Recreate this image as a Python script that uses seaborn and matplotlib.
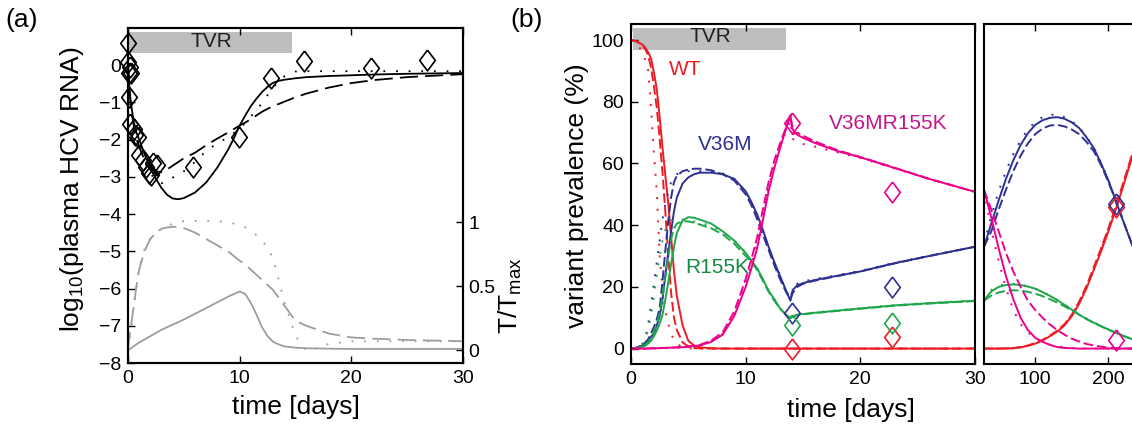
import matplotlib
matplotlib.use('Agg')
import matplotlib.pyplot as plt
import seaborn as sns
import pandas as pd
from matplotlib.patches import Rectangle

# ---------------- (a) plasma HCV RNA and T/Tmax ----------------
t_a = [0, 0.1, 0.25, 0.5, 0.75, 1, 1.5, 2, 2.5, 3, 3.5, 4, 4.5, 5, 6, 7, 8, 9, 9.5, 10, 10.5,
       11, 11.5, 12, 12.5, 13, 13.5, 14, 15, 16, 18, 20, 22, 25, 30]
rna_fit1 = [0, -0.5, -1.0, -1.5, -1.8, -2.0, -2.4, -2.75, -3.05, -3.3, -3.48, -3.58, -3.6, -3.57,
            -3.42, -3.15, -2.75, -2.25, -1.95, -1.62, -1.35, -1.1, -0.9, -0.72, -0.58, -0.47,
            -0.42, -0.39, -0.35, -0.32, -0.29, -0.27, -0.25, -0.23, -0.21]
rna_fit2 = [0, -0.6, -1.1, -1.6, -1.95, -2.2, -2.55, -2.75, -2.85, -2.87, -2.8, -2.7, -2.6, -2.5,
            -2.35, -2.15, -1.97, -1.8, -1.71, -1.62, -1.54, -1.45, -1.35, -1.25, -1.17, -1.1,
            -1.04, -0.98, -0.86, -0.76, -0.6, -0.48, -0.4, -0.32, -0.24]
rna_fit3 = [0, -0.6, -1.15, -1.65, -1.95, -2.2, -2.6, -2.9, -3.1, -3.17, -3.12, -3.02, -2.95, -2.85,
            -2.6, -2.3, -2.1, -1.93, -1.82, -1.7, -1.55, -1.38, -1.2, -1.02, -0.8, -0.6,
            -0.43, -0.3, -0.17, -0.16, -0.16, -0.16, -0.16, -0.16, -0.16]
ttmax_fit1 = [0, 0.005, 0.015, 0.03, 0.045, 0.06, 0.085, 0.11, 0.135, 0.16, 0.18, 0.2, 0.22, 0.24,
              0.285, 0.33, 0.375, 0.42, 0.44, 0.46, 0.44, 0.37, 0.28, 0.18, 0.11, 0.065,
              0.045, 0.03, 0.02, 0.015, 0.012, 0.01, 0.01, 0.01, 0.01]
ttmax_fit2 = [0, 0.08, 0.18, 0.33, 0.5, 0.63, 0.78, 0.87, 0.92, 0.95, 0.96, 0.965, 0.965, 0.955,
              0.92, 0.87, 0.82, 0.77, 0.735, 0.7, 0.67, 0.63, 0.59, 0.55, 0.51, 0.47,
              0.41, 0.35, 0.23, 0.19, 0.13, 0.1, 0.09, 0.08, 0.07]
ttmax_fit3 = [0, 0.06, 0.15, 0.35, 0.49, 0.65, 0.8, 0.87, 0.92, 0.95, 0.97, 0.99, 1.0, 1.01,
              1.01, 1.01, 1.01, 1.0, 0.99, 0.98, 0.96, 0.93, 0.9, 0.86, 0.8, 0.72,
              0.55, 0.38, 0.11, -0.01, 0.05, 0.07, 0.07, 0.07, 0.07]
obs_a_t = [0, 0, 0.2, 0.05, 0.25, 0.1, 0.2, 0.5, 0.6, 0.9, 1.0, 1.3, 1.6, 1.9, 2.2, 2.1, 2.6,
           5.85, 9.9, 12.8, 15.8, 21.8, 26.8]
obs_a_rna = [0.59, 0.08, -0.05, -0.2, -0.22, -0.85, -1.57, -1.7, -1.88, -1.92, -2.4, -2.55, -2.73,
             -2.9, -2.63, -2.95, -2.68, -2.73, -1.92, -0.33, 0.11, -0.08, 0.13]

# ---------------- (b) variant prevalence, days 0-30 ----------------
t_b = [0, 0.5, 1, 1.25, 1.5, 1.75, 2, 2.25, 2.5, 2.75, 3, 3.25, 3.5, 3.75, 4, 4.5, 5, 5.5, 6,
       7, 8, 9, 10, 10.5, 11, 11.5, 12, 12.5, 13, 13.5, 13.9, 14.1, 14.5, 15, 16, 18, 20, 23, 26, 30]
wt_fit1 = [100, 99.6, 98.5, 97.5, 96, 94, 89.5, 84, 75, 65, 56, 47, 36, 25, 17, 7.5, 2.5, 1, 0.4,
           0.1, 0, 0, 0, 0, 0, 0, 0, 0, 0, 0, 0, 0, 0, 0, 0, 0, 0, 0, 0, 0]
wt_fit2 = [100, 99.5, 98.2, 97, 95, 91, 85, 78, 68, 57, 44, 30, 18, 10, 6, 2, 0.7, 0.2, 0.05,
           0, 0, 0, 0, 0, 0, 0, 0, 0, 0, 0, 0, 0, 0, 0, 0, 0, 0, 0, 0, 0]
wt_fit3 = [100, 99, 96, 93.5, 90, 78, 63, 51, 30, 19, 12, 8, 5, 2.5, 1.5, 0.5, 0.1, 0, 0,
           0, 0, 0, 0, 0, 0, 0, 0, 0, 0, 0, 0, 0, 0, 0, 0, 0, 0, 0, 0, 0]
v36m_fit1 = [0, 0.3, 1, 1.7, 2.5, 3.8, 5, 7.5, 10.5, 16, 24, 31, 38, 44.5, 49, 53.5, 55.5, 56.5, 57,
             57, 56.5, 55, 51, 47.5, 43.5, 38.5, 33, 28, 23.5, 19, 15.5, 19, 20.5, 21.2, 22.2,
             23.6, 25, 27.7, 30, 33]
v36m_fit2 = [0, 0.3, 1.2, 2, 3, 5, 7, 9.5, 13, 22, 32, 41.5, 49, 54, 56, 57.5, 58, 58.3, 58.3,
             57.8, 56.5, 54.5, 50, 46.5, 42, 37, 32, 27, 22.5, 18.5, 16, 18, 20, 21, 22,
             23.5, 25, 27.6, 30, 33]
v36m_fit3 = [0, 0.5, 1.5, 3.5, 8, 14, 21, 28, 35, 42, 47, 51, 54, 55.5, 56.5, 57.3, 57.5, 57.5, 57.5,
             57.3, 56.8, 55, 51, 47.5, 43, 38, 33, 28, 23.5, 19, 16, 19.5, 21, 21.8, 22.5,
             23.8, 25.2, 27.8, 30.1, 33]
r155k_fit1 = [0, 0.2, 0.6, 1, 1.6, 2.6, 4, 5.8, 8, 11, 16, 21.5, 27.5, 33, 37.5, 41.5, 42.6, 42.4,
              41.8, 40.5, 38, 35, 31, 28.5, 26, 22.5, 18.7, 16, 13, 11, 9.9, 10.4, 11, 11.2,
              11.6, 12.3, 13, 14, 14.7, 15.5]
r155k_fit2 = [0, 0.2, 0.8, 1.3, 2.2, 3.5, 5.5, 8, 11.5, 17, 23, 30, 35.5, 39, 40.5, 41.3, 41.2, 40.8,
              40.2, 39, 37, 34, 30, 28, 25.5, 22, 18.5, 15.5, 13, 11, 10, 10.2, 10.9, 11.1,
              11.5, 12.2, 12.9, 13.9, 14.6, 15.4]
r155k_fit3 = [0, 0.3, 1.5, 3, 6, 11, 17, 24, 30, 35, 38.5, 40.5, 41.5, 42, 42, 41.8, 41.5, 41.2,
              40.8, 39.8, 37.8, 35, 31, 28.6, 26, 22.5, 18.8, 16, 13, 11, 10, 10.6, 11.1, 11.3,
              11.7, 12.4, 13.1, 14.1, 14.8, 15.6]
dbl_fit1 = [0, 0, 0, 0, 0.05, 0.05, 0.1, 0.1, 0.15, 0.2, 0.2, 0.25, 0.3, 0.3, 0.35, 0.45, 0.6, 0.8,
            1.0, 2.2, 4.5, 10.5, 20, 26, 32.5, 41.6, 51, 58.5, 65, 71, 75.7, 71, 69.3, 68.3,
            66.7, 64, 62, 58.5, 55, 50.8]
dbl_fit2 = [0, 0, 0, 0, 0.05, 0.05, 0.1, 0.1, 0.15, 0.2, 0.2, 0.25, 0.3, 0.35, 0.4, 0.5, 0.7, 0.9,
            1.2, 2.6, 5.3, 12, 22.5, 29, 36, 45, 54, 61, 66.5, 71.5, 75.5, 69.5, 70, 69,
            67.2, 64.3, 62.1, 58.6, 55, 50.8]
dbl_fit3 = [0, 0, 0, 0, 0.05, 0.05, 0.1, 0.1, 0.15, 0.2, 0.2, 0.25, 0.3, 0.3, 0.35, 0.45, 0.6, 0.8,
            1.0, 2.3, 4.8, 11, 21, 27, 34, 43, 52.5, 59.5, 65.5, 70.5, 74, 68, 67, 66.3,
            65.5, 63.6, 61.8, 58.4, 55, 50.8]

# ---------------- (b) long term, days 30-235 ----------------
t_c = [30, 40, 50, 60, 70, 80, 90, 100, 110, 120, 130, 140, 150, 160, 170, 180, 190, 200, 210, 220, 235]
wt_c1 = [0, 0, 0, 0.05, 0.1, 0.4, 0.9, 1.6, 2.6, 4, 5.5, 7.5, 10.5, 14.5, 19.5, 25.5, 31.5, 38, 45, 52.5, 64]
wt_c2 = [0, 0, 0, 0.05, 0.15, 0.5, 1, 1.8, 2.8, 4.2, 5.8, 7.9, 11, 15.2, 20.3, 26.3, 32.5, 39, 46, 53.5, 65]
wt_c3 = [0, 0, 0, 0.05, 0.1, 0.4, 0.9, 1.6, 2.6, 4, 5.6, 7.7, 10.8, 14.9, 20, 26, 32, 38.6, 45.6, 53, 64.5]
v36m_c1 = [33, 40.5, 48, 55, 61, 66, 69.8, 72.5, 74, 74.8, 75, 74.5, 73.3, 71.5, 68.5, 65, 60, 54.5, 48, 41.5, 32]
v36m_c2 = [33, 38, 45, 51.5, 57.5, 62.5, 66.5, 69.5, 71.3, 72.3, 72.5, 72, 71, 69.5, 67, 64, 59.5, 54, 48, 41.5, 32]
v36m_c3 = [34, 43, 51, 57.5, 63, 67.5, 71, 73.5, 75, 75.8, 75.8, 75, 73.7, 71.7, 68.7, 65.2, 60.2, 54.6, 48.1, 41.6, 32.1]
r155k_c1 = [15.7, 18.5, 20, 20.6, 20.8, 20.6, 20.1, 19.4, 18.3, 17.1, 15.7, 14.2, 12.6, 11, 9.6, 8.4, 7.3, 6.2, 5.2, 4.2, 2.8]
r155k_c2 = [15.5, 17.2, 18.2, 18.7, 18.9, 18.8, 18.4, 17.8, 17, 16, 14.9, 13.7, 12.4, 11, 9.6, 8.3, 7.2, 6.1, 5.1, 4.1, 2.8]
r155k_c3 = [15.8, 19, 20.4, 20.9, 21, 20.7, 20.2, 19.5, 18.4, 17.2, 15.8, 14.3, 12.7, 11.1, 9.7, 8.5, 7.3, 6.2, 5.2, 4.2, 2.8]
dbl_c1 = [51.4, 42.5, 32.5, 23.5, 16, 10, 6, 3.5, 2.2, 1.2, 0.5, 0.2, 0.1, 0, 0, 0, 0, 0, 0, 0, 0]
dbl_c2 = [51.4, 45, 38, 31, 25, 20, 15.5, 12.5, 10, 7.8, 6, 4.5, 3.2, 2.3, 1.5, 1, 0.6, 0.3, 0.15, 0.05, 0]
dbl_c3 = [51.4, 38.5, 28.5, 19.5, 12.5, 8, 5.2, 3.5, 2.2, 1.3, 0.8, 0.4, 0.2, 0.1, 0, 0, 0, 0, 0, 0, 0]

# measured prevalence (diamonds)
obs_b_t = [14, 22.8]
obs_b = {'WT': [0, 3.8], 'V36M': [11.4, 20], 'R155K': [7.6, 8.2], 'V36MR155K': [73, 50.8]}
obs_c_t = [211]
obs_c = {'WT': [46], 'V36M': [47], 'V36MR155K': [2.8]}

variants = ['WT', 'V36M', 'R155K', 'V36MR155K']
line_col = {'WT': '#ED1C24', 'V36M': '#2E3192', 'R155K': '#1FA64A', 'V36MR155K': '#EC008C'}
text_col = {'WT': '#ED1C24', 'V36M': '#2E3192', 'R155K': '#138A43', 'V36MR155K': '#C4168C'}


def long_form(t, curves):
    rows = []
    for (variant, fit), vals in curves.items():
        for ti, vi in zip(t, vals):
            rows.append((variant, fit, ti, vi))
    return pd.DataFrame(rows, columns=['variant', 'fit', 't', 'value'])


df_rna = long_form(t_a, {('rna', 'fit 1'): rna_fit1, ('rna', 'fit 2'): rna_fit2, ('rna', 'fit 3'): rna_fit3})
df_tt = long_form(t_a, {('T', 'fit 1'): ttmax_fit1, ('T', 'fit 2'): ttmax_fit2, ('T', 'fit 3'): ttmax_fit3})
df_b = long_form(t_b, {
    ('WT', 'fit 1'): wt_fit1, ('WT', 'fit 2'): wt_fit2, ('WT', 'fit 3'): wt_fit3,
    ('V36M', 'fit 1'): v36m_fit1, ('V36M', 'fit 2'): v36m_fit2, ('V36M', 'fit 3'): v36m_fit3,
    ('R155K', 'fit 1'): r155k_fit1, ('R155K', 'fit 2'): r155k_fit2, ('R155K', 'fit 3'): r155k_fit3,
    ('V36MR155K', 'fit 1'): dbl_fit1, ('V36MR155K', 'fit 2'): dbl_fit2, ('V36MR155K', 'fit 3'): dbl_fit3})
df_c = long_form(t_c, {
    ('WT', 'fit 1'): wt_c1, ('WT', 'fit 2'): wt_c2, ('WT', 'fit 3'): wt_c3,
    ('V36M', 'fit 1'): v36m_c1, ('V36M', 'fit 2'): v36m_c2, ('V36M', 'fit 3'): v36m_c3,
    ('R155K', 'fit 1'): r155k_c1, ('R155K', 'fit 2'): r155k_c2, ('R155K', 'fit 3'): r155k_c3,
    ('V36MR155K', 'fit 1'): dbl_c1, ('V36MR155K', 'fit 2'): dbl_c2, ('V36MR155K', 'fit 3'): dbl_c3})

plt.rcParams['font.family'] = ['Liberation Sans', 'DejaVu Sans']
plt.rcParams['mathtext.default'] = 'regular'
plt.rcParams['axes.linewidth'] = 1.5

W, H = 1132, 429
fig = plt.figure(figsize=(W / 100, H / 100), dpi=100)


def box(l, t, r, b):
    return [l / W, 1 - b / H, (r - l) / W, (b - t) / H]


diamond = [(0, 1), (0.75, 0), (0, -1), (-0.75, 0), (0, 1)]
big_dash = {'fit 1': '', 'fit 2': (10, 4), 'fit 3': (1, 6)}
small_dash = {'fit 1': '', 'fit 2': (5, 2), 'fit 3': (1, 5)}
MS = 15

# ---------------- panel (a) ----------------
ax_a = fig.add_axes(box(128, 28, 463, 363))
ax_a.add_patch(Rectangle((0, 0.32), 14.7, 0.58, color='#BCBEC0', lw=0, zorder=1))
ax_a.text(7.5, 0.63, 'TVR', ha='center', va='center', fontsize=15, color='#231F20')
sns.lineplot(data=df_rna, x='t', y='value', style='fit', dashes=big_dash, color='black',
             lw=1.3, estimator=None, legend=False, ax=ax_a)
sns.lineplot(x=obs_a_t, y=obs_a_rna, marker=diamond, linestyle='', ms=MS, mfc='none',
             mec='black', mew=1.2, color='black', estimator=None, clip_on=False, ax=ax_a, zorder=4)
ax_a.set_xlim(0, 30)
ax_a.set_ylim(-8, 1)
ax_a.set_xticks([0, 10, 20, 30])
ax_a.set_yticks(range(-8, 1))
ax_a.tick_params(direction='in', length=5, width=1, top=True, right=False, labelsize=14, pad=5)
ax_a.set_xlabel('time [days]', fontsize=19, va='center')
ax_a.xaxis.set_label_coords(0.5, -0.131)
ax_a.set_ylabel('log$_{10}$(plasma HCV RNA)', fontsize=19, va='center')
ax_a.yaxis.set_label_coords(-0.167, 0.52)

ax_t = ax_a.twinx()
sns.lineplot(data=df_tt, x='t', y='value', style='fit', dashes=big_dash, color='#9D9D9D',
             lw=1.3, estimator=None, legend=False, ax=ax_t)
ax_t.set_ylim(-0.1, 2.52)
ax_t.set_yticks([0, 0.5, 1])
ax_t.set_yticklabels(['0', '0.5', '1'])
ax_t.tick_params(direction='in', length=5, width=1, labelsize=14, pad=4)
ax_t.set_ylabel('T/T$_{max}$', fontsize=19, va='center', rotation=90)
ax_t.yaxis.set_label_coords(1.14, 0.2)

# ---------------- panel (b), first 30 days ----------------
ax_b = fig.add_axes(box(631, 24, 975, 364))
ax_b.add_patch(Rectangle((0.2, 96.8), 13.3, 7.1, color='#BCBEC0', lw=0, zorder=1))
ax_b.text(6.9, 101, 'TVR', ha='center', va='center', fontsize=15, color='#231F20')
sns.lineplot(data=df_b, x='t', y='value', hue='variant', style='fit', palette=line_col,
             dashes=small_dash, lw=1.4, estimator=None, legend=False, ax=ax_b)
for v, vals in obs_b.items():
    sns.lineplot(x=obs_b_t, y=vals, marker=diamond, linestyle='', ms=MS, mfc='none',
                 mec=line_col[v], mew=1.2, color=line_col[v], estimator=None, ax=ax_b, zorder=4)
ax_b.text(4.7, 90.4, 'WT', color=text_col['WT'], fontsize=15, ha='center', va='center')
ax_b.text(8.2, 66, 'V36M', color=text_col['V36M'], fontsize=15, ha='center', va='center')
ax_b.text(7.5, 26.2, 'R155K', color=text_col['R155K'], fontsize=15, ha='center', va='center')
ax_b.text(22.4, 73, 'V36MR155K', color=text_col['V36MR155K'], fontsize=15, ha='center', va='center')
ax_b.set_xlim(0, 30)
ax_b.set_ylim(-5, 105.2)
ax_b.set_xticks([0, 10, 20, 30])
ax_b.set_yticks(range(0, 101, 20))
ax_b.tick_params(direction='in', length=5, width=1, top=True, right=False, labelsize=14, pad=5)
ax_b.set_xlabel('time [days]', fontsize=19, va='center')
ax_b.xaxis.set_label_coords(0.64, -0.135)
ax_b.set_ylabel('variant prevalence (%)', fontsize=19, va='center')
ax_b.yaxis.set_label_coords(-0.157, 0.494)

# ---------------- panel (b), long term ----------------
ax_c = fig.add_axes(box(984, 24, 1134, 364))
sns.lineplot(data=df_c, x='t', y='value', hue='variant', style='fit', palette=line_col,
             dashes=small_dash, lw=1.4, estimator=None, legend=False, ax=ax_c)
for v, vals in obs_c.items():
    sns.lineplot(x=obs_c_t, y=vals, marker=diamond, linestyle='', ms=MS, mfc='none',
                 mec=line_col[v], mew=1.2, color=line_col[v], estimator=None, ax=ax_c, zorder=4)
ax_c.set_xlim(30, 235)
ax_c.set_ylim(-5, 105.2)
ax_c.set_xticks([100, 200])
ax_c.set_yticks([])
ax_c.tick_params(direction='in', length=5, width=1, top=True, labelsize=14, pad=5)
ax_c.set_xlabel('')
ax_c.set_ylabel('')

fig.text(22 / W, 1 - 20 / H, '(a)', fontsize=19, ha='center', va='center')
fig.text(527 / W, 1 - 20 / H, '(b)', fontsize=19, ha='center', va='center')

fig.savefig('out.png', dpi=100)
